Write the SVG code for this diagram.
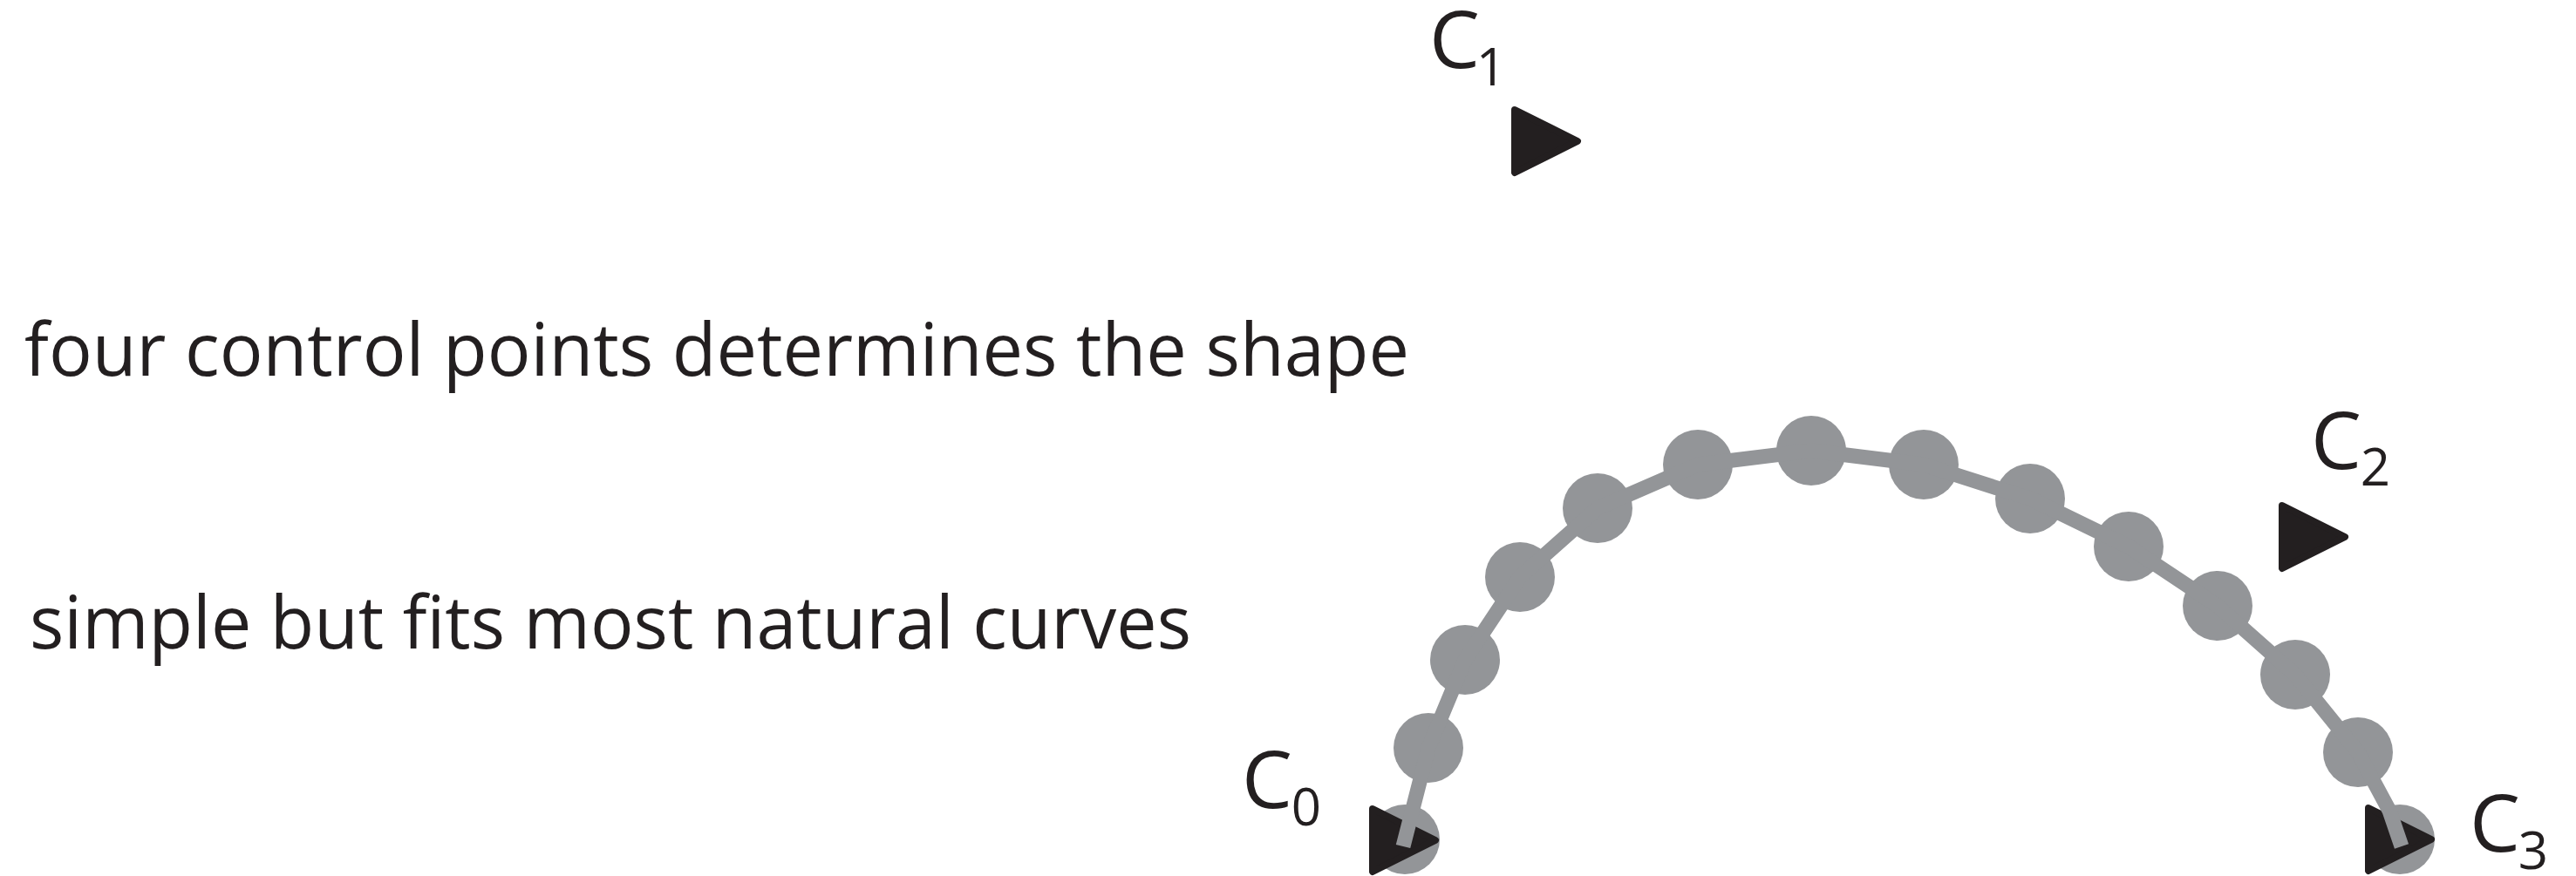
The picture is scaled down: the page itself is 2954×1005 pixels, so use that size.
<svg xmlns="http://www.w3.org/2000/svg" xmlns:xlink="http://www.w3.org/1999/xlink" width="2954" height="1005" viewBox="0 0 2954 1005">
  <style>
    .txt { font-family: "Open Sans", "Noto Sans", "Liberation Sans", sans-serif; fill: #231f20; }
    .body { font-size: 85px; }
    .lblC { font-size: 92px; text-anchor: middle; }
    .lblSub { font-size: 60px; text-anchor: middle; }
    .dot { fill: #939598; }
    .tri { fill: #231f20; stroke: #231f20; stroke-width: 8; stroke-linejoin: round; }
    .curve { fill: none; stroke: #939598; stroke-width: 17; stroke-linejoin: round; stroke-linecap: butt; }
  </style>
  <defs>
    <path id="tri" class="tri" d="M4,4 L76,40 L4,76 Z"/>
  </defs>
  <rect width="2954" height="1005" fill="#ffffff"/>

  <g id="text-lines">
    <text class="txt body" x="28" y="431" textLength="1588" lengthAdjust="spacingAndGlyphs">four control points determines the shape</text>
    <text class="txt body" x="34" y="744" textLength="1332" lengthAdjust="spacingAndGlyphs">simple but fits most natural curves</text>
  </g>

  <g id="sample-points">
    <circle class="dot" cx="1611" cy="963" r="40"/>
    <circle class="dot" cx="1638" cy="858" r="40"/>
    <circle class="dot" cx="1680" cy="757" r="40"/>
    <circle class="dot" cx="1743" cy="662" r="40"/>
    <circle class="dot" cx="1832" cy="583" r="40"/>
    <circle class="dot" cx="1947" cy="533" r="40"/>
    <circle class="dot" cx="2077" cy="517" r="40"/>
    <circle class="dot" cx="2206" cy="533" r="40"/>
    <circle class="dot" cx="2328" cy="572" r="40"/>
    <circle class="dot" cx="2441" cy="627" r="40"/>
    <circle class="dot" cx="2543" cy="695" r="40"/>
    <circle class="dot" cx="2632" cy="774" r="40"/>
    <circle class="dot" cx="2704" cy="863" r="40"/>
    <circle class="dot" cx="2752" cy="963" r="40"/>
  </g>

  <g id="C0">
    <use href="#tri" xlink:href="#tri" x="1570" y="924"/>
    <text class="txt lblC" x="1453" y="927">C</text>
    <text class="txt lblSub" x="1498" y="947">0</text>
  </g>
  <g id="C1">
    <use href="#tri" xlink:href="#tri" x="1733" y="122"/>
    <text class="txt lblC" x="1668" y="78">C</text>
    <text class="txt lblSub" x="1710" y="98">1</text>
  </g>
  <g id="C2">
    <use href="#tri" xlink:href="#tri" x="2613" y="576"/>
    <text class="txt lblC" x="2679" y="538">C</text>
    <text class="txt lblSub" x="2724" y="557">2</text>
  </g>
  <g id="C3">
    <use href="#tri" xlink:href="#tri" x="2712" y="923"/>
    <text class="txt lblC" x="2861" y="977">C</text>
    <text class="txt lblSub" x="2905" y="997">3</text>
  </g>

  <g id="connectors">
    <polyline class="curve" points="1609,971 1638,858 1680,757 1743,662 1832,583 1947,533 2077,517 2206,533 2328,572 2441,627 2543,695 2632,774 2704,863 2740,930 2754,971"/>
  </g>
</svg>
